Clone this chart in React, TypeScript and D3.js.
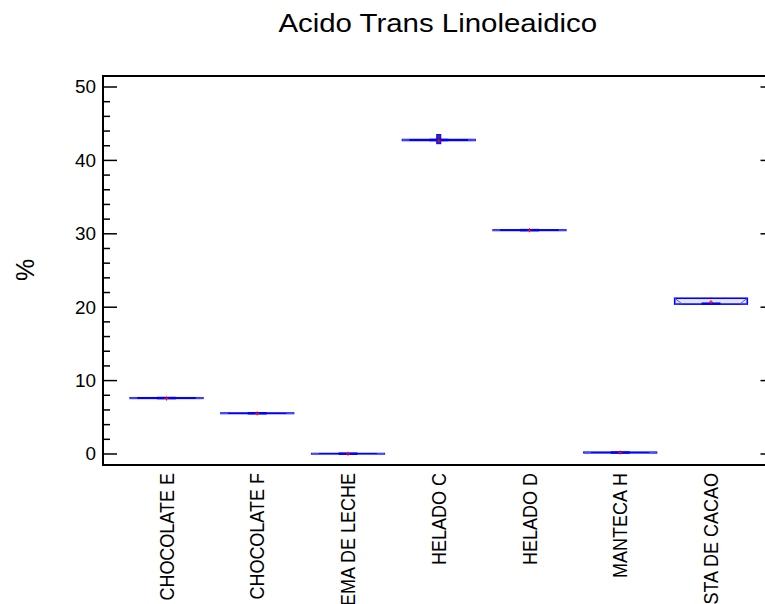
import React from "react";
import * as d3 from "d3";

// groups along the x axis
const categories = [
  "CHOCOLATE E",
  "CHOCOLATE F",
  "CREMA DE LECHE",
  "HELADO C",
  "HELADO D",
  "MANTECA H",
  "PASTA DE CACAO",
];

// box statistics per group (%)
const mins = [7.56, 5.5, 0.0, 42.6, 30.44, 0.12, 20.4];
const q1s = [7.58, 5.52, 0.02, 42.72, 30.46, 0.16, 20.42];
const medians = [7.62, 5.55, 0.04, 42.78, 30.5, 0.2, 20.48];
const q3s = [7.66, 5.58, 0.06, 42.84, 30.54, 0.24, 21.22];
const maxs = [7.68, 5.6, 0.08, 43.0, 30.56, 0.28, 21.3];
const means = [7.55, 5.52, 0.03, 42.75, 30.48, 0.2, 20.7];
const outliers = [[], [], [], [43.25, 42.55], [], [], []];

const yTicks = [0, 10, 20, 30, 40, 50];
const yMinorTicks = d3.range(0, 51, 2);

const title = "Acido Trans Linoleaidico";
const yLabel = "%";

const W = 765,
  H = 604;
const margin = { left: 103, right: 774.5, top: 76, bottom: 465 };
const blue = "#0000ff";
const font = "Liberation Sans, Arial, sans-serif";

export default function App() {
  const x = d3
    .scalePoint()
    .domain(categories)
    .range([margin.left, margin.right])
    .padding(0.7);
  const y = d3.scaleLinear().domain([-1.5, 51.5]).range([margin.bottom, margin.top]);

  const boxW = x.step() * 0.8;
  const half = boxW / 2;
  const indent = 7;
  const medHalf = 9.5;

  return (
    <div style={{ position: "fixed", left: 0, top: 0, width: W, height: H, overflow: "hidden", background: "#fff" }}>
      <svg width={W} height={H} style={{ display: "block" }}>
        {/* title */}
        <text
          transform={`translate(${(margin.left + margin.right) / 2 - 1},32) scale(1.11,1)`}
          textAnchor="middle"
          fontFamily={font}
          fontSize={26.5}
        >
          {title}
        </text>

        {/* y label */}
        <text
          transform={`translate(34,270) rotate(-90)`}
          textAnchor="middle"
          fontFamily={font}
          fontSize={25}
        >
          {yLabel}
        </text>

        {/* frame */}
        <rect
          x={margin.left}
          y={margin.top}
          width={margin.right - margin.left}
          height={margin.bottom - margin.top}
          fill="none"
          stroke="#000"
          strokeWidth={2}
        />

        {/* y ticks left and right */}
        {yMinorTicks.map(t => {
          const major = t % 10 === 0;
          const len = major ? 14 : 7;
          return (
            <g key={"t" + t}>
              <line x1={margin.left} x2={margin.left + len} y1={y(t)} y2={y(t)} stroke="#000" strokeWidth={1.5} />
              <line x1={margin.right} x2={margin.right - len} y1={y(t)} y2={y(t)} stroke="#000" strokeWidth={1.5} />
            </g>
          );
        })}
        {yTicks.map(t => (
          <text
            key={"l" + t}
            transform={`translate(96,${y(t)}) scale(1.08,1)`}
            dy="0.36em"
            textAnchor="end"
            fontFamily={font}
            fontSize={17.5}
          >
            {t}
          </text>
        ))}

        {/* category labels */}
        {categories.map(c => (
          <text
            key={"c" + c}
            transform={`translate(${x(c)},473) scale(1.1,1) rotate(-90)`}
            dy="0.36em"
            textAnchor="end"
            fontFamily={font}
            fontSize={18}
          >
            {c}
          </text>
        ))}

        {/* notched boxes */}
        {categories.map((c, i) => {
          const cx = x(c);
          const l = cx - half,
            r = cx + half;
          const med = y(medians[i]);
          const top = y(q3s[i]);
          const bot = y(q1s[i]);
          const notchL: [number, number][] = [
            [l, top],
            [l + indent, med],
            [l, bot],
          ];
          const notchR: [number, number][] = [
            [r, top],
            [r - indent, med],
            [r, bot],
          ];
          return (
            <g key={"b" + c}>
              <line x1={cx} x2={cx} y1={top} y2={y(maxs[i])} stroke={blue} strokeWidth={1.5} />
              <line x1={cx} x2={cx} y1={bot} y2={y(mins[i])} stroke={blue} strokeWidth={1.5} />
              <rect x={l} y={top} width={boxW} height={Math.max(bot - top, 0.01)} fill="#e6e6ff" stroke={blue} strokeWidth={1.6} />
              <path d={d3.line()(notchL) ?? ""} fill="none" stroke="#5050ff" strokeWidth={1} />
              <path d={d3.line()(notchR) ?? ""} fill="none" stroke="#5050ff" strokeWidth={1} />
              <line x1={cx - medHalf} x2={cx + medHalf} y1={med} y2={med} stroke={blue} strokeWidth={2.5} />
              {outliers[i].map((o, j) => (
                <rect key={j} x={cx - 2} y={y(o) - 2} width={4} height={4} fill="#3030a0" stroke={blue} strokeWidth={1} />
              ))}
              <line x1={cx - 2} x2={cx + 2} y1={y(means[i])} y2={y(means[i])} stroke="#ff0000" strokeWidth={1} />
              <line x1={cx} x2={cx} y1={y(means[i]) - 2} y2={y(means[i]) + 2} stroke="#ff0000" strokeWidth={1} />
            </g>
          );
        })}
      </svg>
    </div>
  );
}
